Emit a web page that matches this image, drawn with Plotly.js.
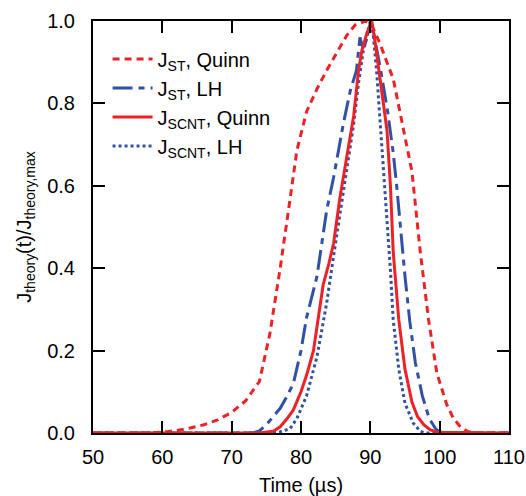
<!DOCTYPE html>
<html>
<head>
<meta charset="utf-8">
<script src="https://cdn.plot.ly/plotly-3.0.1.min.js"></script>
<style>html,body{margin:0;padding:0;background:#fff;}#chart{width:526px;height:496px;}</style>
</head>
<body>
<div id="chart"></div>
<script>
// J_ST, Quinn
const tStQuinn = [50, 58, 60, 62, 64, 66, 68, 70, 72, 74, 75.5, 77, 78.4, 79.4, 80.8, 82.3, 83.7, 85.2, 86.6, 87.8, 89.3, 90.2, 91.4, 92.5, 93.3, 94.8, 96, 97.2, 98.4, 99.6, 101, 102, 103, 104, 105, 110];
const yStQuinn = [0, 0, 0.002, 0.006, 0.012, 0.02, 0.032, 0.05, 0.078, 0.125, 0.24, 0.40, 0.565, 0.685, 0.78, 0.835, 0.88, 0.925, 0.965, 0.99, 1.0, 0.99, 0.945, 0.895, 0.86, 0.735, 0.635, 0.44, 0.275, 0.145, 0.07, 0.035, 0.015, 0.004, 0, 0];
// J_ST, LH
const tStLH = [50, 73, 74, 75, 76, 77, 78, 78.9, 80, 80.8, 82.3, 83.7, 84.7, 86.1, 87.1, 88.0, 88.5, 89.0, 89.5, 90.1, 90.6, 91.5, 92.5, 93.3, 93.8, 94.4, 95.0, 95.7, 96.5, 97.5, 98.5, 99.5, 100.5, 110];
const yStLH = [0, 0, 0.005, 0.02, 0.04, 0.06, 0.09, 0.12, 0.2, 0.28, 0.38, 0.54, 0.62, 0.75, 0.83, 0.88, 0.96, 0.93, 0.96, 1.0, 0.96, 0.88, 0.78, 0.68, 0.6, 0.48, 0.38, 0.27, 0.17, 0.09, 0.035, 0.008, 0, 0];
// J_SCNT, Quinn
const tScntQuinn = [50, 74, 76, 77, 78, 78.9, 80, 80.8, 81.8, 82.5, 83.2, 84, 84.7, 85.6, 86.6, 87.6, 88.3, 88.8, 89.5, 90.2, 90.6, 91.4, 92.4, 92.9, 93.3, 94.1, 95, 96, 96.8, 97.7, 98.6, 99.6, 110];
const yScntQuinn = [0, 0, 0.004, 0.015, 0.035, 0.056, 0.1, 0.14, 0.2, 0.28, 0.36, 0.41, 0.46, 0.57, 0.67, 0.77, 0.88, 0.93, 0.97, 1.0, 0.96, 0.865, 0.735, 0.6, 0.44, 0.275, 0.155, 0.075, 0.04, 0.02, 0.008, 0.002, 0];
// J_SCNT, LH
const tScntLH = [50, 75, 77, 78.4, 79.4, 80.8, 82.3, 83.7, 84.7, 85.6, 86.6, 87.6, 88.3, 89.0, 89.5, 90.0, 90.4, 90.9, 91.4, 91.9, 92.4, 92.9, 93.3, 94.1, 95.0, 96.2, 97.2, 98, 110];
const yScntLH = [0, 0, 0.003, 0.01, 0.035, 0.09, 0.185, 0.315, 0.43, 0.525, 0.64, 0.75, 0.85, 0.93, 0.96, 1.0, 0.97, 0.88, 0.76, 0.64, 0.515, 0.395, 0.275, 0.155, 0.072, 0.024, 0.004, 0, 0];

const names = ['J<sub>ST</sub>, Quinn', 'J<sub>ST</sub>, LH', 'J<sub>SCNT</sub>, Quinn', 'J<sub>SCNT</sub>, LH'];
const xTicks = [50, 60, 70, 80, 90, 100, 110];
const yTicks = [0, 0.2, 0.4, 0.6, 0.8, 1.0];

const RED = '#ec2227';
const BLUE = '#3151a6';

const traces = [
  {x: tScntLH, y: yScntLH, name: names[3], legendrank: 4, mode: 'lines', line: {color: BLUE, width: 3, dash: '3px,3px'}},
  {x: tStLH, y: yStLH, name: names[1], legendrank: 2, mode: 'lines', line: {color: BLUE, width: 3, dash: '20px,6px,6px,6px'}},
  {x: tScntQuinn, y: yScntQuinn, name: names[2], legendrank: 3, mode: 'lines', line: {color: RED, width: 3}},
  {x: tStQuinn, y: yStQuinn, name: names[0], legendrank: 1, mode: 'lines', line: {color: RED, width: 3, dash: '7px,5px'}}
];

const FAM = 'Liberation Sans, Arial, Helvetica, sans-serif';

const layout = {
  width: 526, height: 496,
  margin: {l: 93, r: 17, t: 21, b: 63},
  paper_bgcolor: '#fff', plot_bgcolor: '#fff',
  font: {family: FAM, size: 20, color: '#000'},
  showlegend: true,
  legend: {x: 0.035, y: 0.955, xanchor: 'left', yanchor: 'top', bgcolor: 'rgba(0,0,0,0)', itemwidth: 40, tracegroupgap: 0,
           font: {family: FAM, size: 20, color: '#000'}, traceorder: 'normal'},
  xaxis: {
    range: [50, 110], tickvals: xTicks, ticktext: xTicks.map(String),
    ticks: 'inside', ticklen: 12, tickwidth: 2, tickcolor: '#000', ticklabelstandoff: 5,
    showline: true, linewidth: 2, linecolor: '#000', mirror: 'ticks',
    showgrid: false, zeroline: false,
    tickfont: {family: FAM, size: 20, color: '#000'},
    title: {text: 'Time (µs)', font: {family: FAM, size: 20, color: '#000'}, standoff: 11}
  },
  yaxis: {
    range: [0, 1.0], tickvals: yTicks, ticktext: yTicks.map(v => v.toFixed(1)),
    ticks: 'inside', ticklen: 12, tickwidth: 2, tickcolor: '#000', ticklabelstandoff: 12,
    showline: true, linewidth: 2, linecolor: '#000', mirror: 'ticks',
    showgrid: false, zeroline: false,
    tickfont: {family: FAM, size: 20, color: '#000'},
    title: {text: 'J<sub>theory</sub>(t)/J<sub>theory,max</sub>', font: {family: FAM, size: 20, color: '#000'}, standoff: 10}
  }
};

Plotly.newPlot('chart', traces, layout, {displayModeBar: false, staticPlot: true});
</script>
</body>
</html>
